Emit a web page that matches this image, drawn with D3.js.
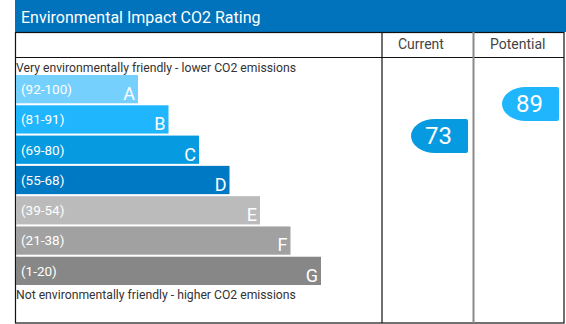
<!DOCTYPE html>
<html>
<head>
<meta charset="utf-8">
<script src="https://cdn.jsdelivr.net/npm/d3@7"></script>
<style>
  body { margin: 0; background: #fff; }
  svg text { font-family: Roboto, "Liberation Sans", sans-serif; }
</style>
</head>
<body>
<div id="chart"></div>
<script>
var bands = ['A', 'B', 'C', 'D', 'E', 'F', 'G'];
var ranges = ['(92-100)', '(81-91)', '(69-80)', '(55-68)', '(39-54)', '(21-38)', '(1-20)'];
var bandColors = ['#76d0fe', '#1fb6fe', '#069be0', '#0079c4', '#bbbbbb', '#a1a1a1', '#878787'];
var columns = ['Current', 'Potential'];
var ratings = [73, 89];
var ratingBands = ['C', 'B'];

var width = 566, height = 324;
var svg = d3.select('#chart').append('svg')
    .attr('width', width).attr('height', height);

var left = 15, right = 564, bottom = 323;
var col1 = 382, col2 = 473.5;

// header bar
svg.append('rect')
    .attr('x', left).attr('y', 0)
    .attr('width', width - left).attr('height', 32)
    .attr('fill', '#0073bc');
svg.append('text')
    .attr('x', 21).attr('y', 23)
    .attr('fill', '#fff')
    .attr('font-size', 16)
    .text('Environmental Impact CO2 Rating');

// table frame
svg.append('rect')
    .attr('x', left + 0.5).attr('y', 32.5)
    .attr('width', right - left - 0.5).attr('height', bottom - 32.5)
    .attr('fill', 'none').attr('stroke', '#111').attr('stroke-width', 1.2);
svg.append('line')
    .attr('x1', left).attr('x2', right)
    .attr('y1', 57.5).attr('y2', 57.5)
    .attr('stroke', '#111');
svg.append('line')
    .attr('x1', col1).attr('x2', col1)
    .attr('y1', 32).attr('y2', bottom)
    .attr('stroke', '#111').attr('stroke-width', 1.2);
svg.append('line')
    .attr('x1', col2).attr('x2', col2)
    .attr('y1', 32).attr('y2', bottom)
    .attr('stroke', '#8a8a8a').attr('stroke-width', 2);

var colLeft = [col1 + 16, col2 + 16.5];
svg.selectAll('.col-head')
    .data(columns)
    .enter().append('text')
    .attr('class', 'col-head')
    .attr('x', function(d, i) { return colLeft[i]; })
    .attr('y', 49)
    .attr('font-size', 14)
    .attr('fill', '#444')
    .text(function(d) { return d; });

// band bars
var yScale = d3.scaleBand()
    .domain(bands)
    .range([75, 285])
    .paddingInner(2 / 30)
    .paddingOuter(0);

var wScale = d3.scaleLinear()
    .domain([0, bands.length - 1])
    .range([122, 305]);

svg.append('text')
    .attr('x', 16).attr('y', 72)
    .attr('font-size', 12.2)
    .attr('fill', '#333')
    .text('Very environmentally friendly - lower CO2 emissions');

svg.append('text')
    .attr('x', 16).attr('y', 299)
    .attr('font-size', 12.2)
    .attr('fill', '#333')
    .text('Not environmentally friendly - higher CO2 emissions');

var bar = svg.selectAll('.band')
    .data(bands)
    .enter().append('g')
    .attr('class', 'band')
    .attr('transform', function(d) { return 'translate(16,' + yScale(d) + ')'; });

bar.append('rect')
    .attr('width', function(d, i) { return wScale(i); })
    .attr('height', yScale.bandwidth())
    .attr('fill', function(d, i) { return bandColors[i]; });

bar.append('text')
    .attr('x', 5)
    .attr('y', 19)
    .attr('font-size', 13.5)
    .attr('fill', '#fff')
    .text(function(d, i) { return ranges[i]; });

bar.append('text')
    .attr('x', function(d, i) { return wScale(i) - 3; })
    .attr('y', 25)
    .attr('text-anchor', 'end')
    .attr('font-size', 18)
    .attr('fill', '#fff')
    .text(function(d) { return d; });

// rating badges
var valueScale = d3.scaleLinear().domain([1, 100]).range([280, 82]);
var bw = 57, bh = 34, rx = 24;

var badge = svg.selectAll('.badge')
    .data(ratings)
    .enter().append('g')
    .attr('class', 'badge')
    .attr('transform', function(d, i) {
        var xr = i == 0 ? col1 + 86 : right - 5;
        return 'translate(' + (xr - bw) + ',' + (valueScale(d) - bh / 2) + ')';
    });

badge.append('path')
    .attr('d', 'M' + rx + ',0 L' + (bw - 2) + ',0 Q' + bw + ',0 ' + bw + ',2 L' + bw + ',' + (bh - 2) +
        ' Q' + bw + ',' + bh + ' ' + (bw - 2) + ',' + bh + ' L' + rx + ',' + bh +
        ' A' + rx + ',' + (bh / 2) + ' 0 0 1 ' + rx + ',0 Z')
    .attr('fill', function(d, i) { return bandColors[bands.indexOf(ratingBands[i])]; });

badge.append('text')
    .attr('x', bw / 2 - 1)
    .attr('y', bh / 2 + 8)
    .attr('text-anchor', 'middle')
    .attr('font-size', 24)
    .attr('fill', '#fff')
    .text(function(d) { return d; });
</script>
</body>
</html>
